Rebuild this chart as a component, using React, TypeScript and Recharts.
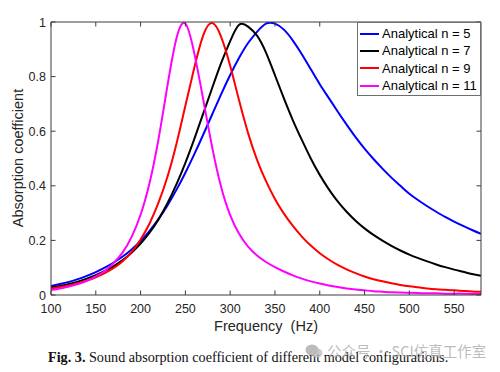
import React from 'react';
import { LineChart, Line, XAxis, YAxis, Legend } from 'recharts';

// frequency grid (Hz)
const freq = [
  100, 110, 120, 130, 140, 150, 160, 170, 180, 190,
  200, 210, 220, 230, 240, 250, 260, 270, 280, 290,
  300, 310, 320, 330, 340, 350, 360, 370, 380, 390,
  400, 410, 420, 430, 440, 450, 460, 470, 480, 490,
  500, 510, 520, 530, 540, 550, 560, 570, 580,
];

// absorption coefficient
const n5 = [
  0.033, 0.04, 0.048, 0.058, 0.07, 0.084, 0.1, 0.119, 0.141, 0.167,
  0.198, 0.235, 0.278, 0.328, 0.385, 0.448, 0.516, 0.588, 0.662, 0.736,
  0.806, 0.869, 0.923, 0.964, 0.994, 0.994, 0.972, 0.932, 0.882, 0.827,
  0.772, 0.722, 0.672, 0.624, 0.578, 0.536, 0.498, 0.463, 0.43, 0.4,
  0.371, 0.347, 0.325, 0.305, 0.286, 0.269, 0.253, 0.238, 0.224,
];
const n7 = [
  0.027, 0.033, 0.04, 0.049, 0.06, 0.073, 0.088, 0.106, 0.128, 0.155,
  0.188, 0.228, 0.277, 0.336, 0.405, 0.484, 0.572, 0.665, 0.759, 0.85,
  0.93, 0.99, 0.983, 0.95, 0.888, 0.805, 0.72, 0.64, 0.568, 0.5,
  0.44, 0.388, 0.343, 0.305, 0.272, 0.244, 0.22, 0.199, 0.18, 0.163,
  0.148, 0.135, 0.123, 0.112, 0.102, 0.093, 0.085, 0.077, 0.07,
];
const n9 = [
  0.024, 0.029, 0.035, 0.043, 0.053, 0.065, 0.08, 0.099, 0.124, 0.157,
  0.203, 0.262, 0.338, 0.433, 0.553, 0.693, 0.833, 0.952, 0.996, 0.945,
  0.84, 0.712, 0.593, 0.495, 0.417, 0.352, 0.298, 0.253, 0.214, 0.181,
  0.153, 0.13, 0.11, 0.094, 0.08, 0.068, 0.058, 0.05, 0.043, 0.037,
  0.032, 0.028, 0.024, 0.021, 0.019, 0.017, 0.015, 0.013, 0.012,
];
const n11 = [
  0.018, 0.024, 0.031, 0.04, 0.052, 0.068, 0.088, 0.117, 0.156, 0.213,
  0.294, 0.41, 0.571, 0.767, 0.94, 0.994, 0.885, 0.715, 0.54, 0.395,
  0.293, 0.224, 0.177, 0.145, 0.121, 0.102, 0.086, 0.072, 0.06, 0.05,
  0.042, 0.035, 0.029, 0.024, 0.02, 0.017, 0.014, 0.012, 0.01, 0.009,
  0.008, 0.007, 0.006, 0.006, 0.005, 0.005, 0.005, 0.004, 0.004,
];

const seriesKeys = ['n5', 'n7', 'n9', 'n11'];
const seriesNames = ['Analytical n = 5', 'Analytical n = 7', 'Analytical n = 9', 'Analytical n = 11'];
const seriesColors = ['#0000ff', '#000000', '#ff0000', '#ff00ff'];

const xTicks = [100, 150, 200, 250, 300, 350, 400, 450, 500, 550];
const yTicks = [0, 0.2, 0.4, 0.6, 0.8, 1];

const rows = freq.map((f, i) => ({ freq: f, n5: n5[i], n7: n7[i], n9: n9[i], n11: n11[i] }));

const AXIS = '#3c3c3c';
const TEXT = '#262626';
const FONT = '"Liberation Sans", Arial, Helvetica, sans-serif';
const TICK = 4.5;

const BottomTick = (props: any) => {
  const { x, y, payload } = props;
  return (
    <g>
      <line x1={x} x2={x} y1={y - 6} y2={y - 6 - TICK} stroke={AXIS} />
      <text x={x} y={y + 12} textAnchor="middle" fontSize={12.5} fill={TEXT} fontFamily={FONT}>
        {payload.value}
      </text>
    </g>
  );
};

const LeftTick = (props: any) => {
  const { x, y, payload } = props;
  return (
    <g>
      <line x1={x + 5} x2={x + 5 + TICK} y1={y} y2={y} stroke={AXIS} />
      <text x={x} y={y} dy="0.36em" textAnchor="end" fontSize={12.5} fill={TEXT} fontFamily={FONT}>
        {String(payload.value)}
      </text>
    </g>
  );
};

const TopTick = (props: any) => {
  const { x, y } = props;
  return <line x1={x} x2={x} y1={y} y2={y + TICK} stroke={AXIS} />;
};

const RightTick = (props: any) => {
  const { x, y } = props;
  return <line x1={x} x2={x - TICK} y1={y} y2={y} stroke={AXIS} />;
};

const LegendBox = (props: any) => {
  // keep the plotting order (n = 5, 7, 9, 11)
  const items = [...(props.payload || [])].sort(
    (a: any, b: any) => seriesNames.indexOf(a.value) - seriesNames.indexOf(b.value)
  );
  return (
    <div
      style={{
        boxSizing: 'border-box',
        border: '1px solid #6e6e6e',
        background: '#fff',
        padding: '2px 2px 1px 2px',
        fontFamily: FONT,
        fontSize: 13,
        color: '#000',
      }}
    >
      {items.map((e: any) => (
        <div key={e.value} style={{ display: 'flex', alignItems: 'center', height: 17.3, whiteSpace: 'nowrap' }}>
          <span style={{ display: 'inline-block', width: 19, height: 2, background: e.color, marginRight: 3 }} />
          <span>{e.value}</span>
        </div>
      ))}
    </div>
  );
};

export default function App() {
  return (
    <div style={{ position: 'absolute', left: 0, top: 0, width: 500, height: 372, background: '#fff', overflow: 'hidden' }}>
      <LineChart width={500} height={372} data={rows} margin={{ top: 21, right: 18, bottom: 47, left: 0 }}>
        <XAxis
          dataKey="freq"
          type="number"
          domain={[100, 580]}
          allowDataOverflow
          ticks={xTicks}
          height={30}
          tickSize={0}
          tickMargin={6}
          tickLine={false}
          axisLine={{ stroke: AXIS }}
          tick={<BottomTick />}
        />
        <XAxis
          xAxisId="top"
          orientation="top"
          dataKey="freq"
          type="number"
          domain={[100, 580]}
          allowDataOverflow
          ticks={xTicks}
          height={1}
          tickSize={0}
          tickMargin={0}
          tickLine={false}
          axisLine={{ stroke: AXIS }}
          tick={<TopTick />}
        />
        <YAxis
          type="number"
          domain={[0, 1]}
          allowDataOverflow
          ticks={yTicks}
          width={51}
          tickSize={0}
          tickMargin={5}
          tickLine={false}
          axisLine={{ stroke: AXIS }}
          tick={<LeftTick />}
        />
        <YAxis
          yAxisId="right"
          orientation="right"
          type="number"
          domain={[0, 1]}
          allowDataOverflow
          ticks={yTicks}
          width={1}
          tickSize={0}
          tickMargin={0}
          tickLine={false}
          axisLine={{ stroke: AXIS }}
          tick={<RightTick />}
        />
        <Legend
          layout="horizontal"
          align="center"
          verticalAlign="middle"
          wrapperStyle={{ left: 357, top: 22, width: 124, height: 'auto' }}
          content={<LegendBox />}
        />
        {seriesKeys.map((k, i) => (
          <Line
            key={k}
            dataKey={k}
            name={seriesNames[i]}
            stroke={seriesColors[i]}
            strokeWidth={2}
            type="natural"
            dot={false}
            activeDot={false}
            isAnimationActive={false}
          />
        ))}
      </LineChart>

      <div
        style={{
          position: 'absolute',
          left: 18,
          top: 158,
          transform: 'translate(-50%, -50%) rotate(-90deg)',
          whiteSpace: 'nowrap',
          fontFamily: FONT,
          fontSize: 14.5,
          lineHeight: 1,
          color: TEXT,
        }}
      >
        Absorption coefficient
      </div>
      <div
        style={{
          position: 'absolute',
          left: 266,
          top: 318.5,
          transform: 'translateX(-50%)',
          whiteSpace: 'pre',
          fontFamily: FONT,
          fontSize: 14.5,
          lineHeight: 1,
          color: TEXT,
        }}
      >
        {'Frequency  (Hz)'}
      </div>
      <div
        style={{
          position: 'absolute',
          left: 48,
          top: 350,
          whiteSpace: 'nowrap',
          fontFamily: '"Liberation Serif", "Times New Roman", serif',
          fontSize: 14.2,
          lineHeight: 1,
          color: '#111',
        }}
      >
        <b>Fig. 3.</b> Sound absorption coefficient of different model configurations.
      </div>
      <div
        style={{
          position: 'absolute',
          left: 305,
          top: 343,
          display: 'flex',
          alignItems: 'center',
          whiteSpace: 'nowrap',
          fontFamily: '"Noto Sans CJK SC", sans-serif',
          fontSize: 14.5,
          lineHeight: 1,
          color: 'rgba(170,170,170,0.8)',
        }}
      >
        <svg width={18} height={16} style={{ marginRight: 4 }}>
          <ellipse cx={7} cy={7} rx={6.5} ry={5.5} fill="rgba(170,170,170,0.8)" />
          <ellipse cx={12} cy={10} rx={5.5} ry={4.5} fill="rgba(190,190,190,0.8)" />
        </svg>
        <span>公众号 · SCI仿真工作室</span>
      </div>
    </div>
  );
}
